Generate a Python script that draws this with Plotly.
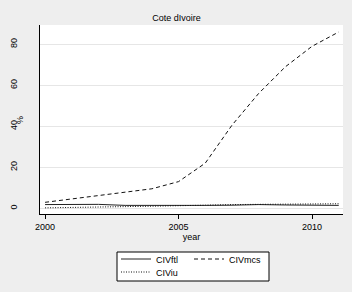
import plotly.graph_objects as go

years = [2000, 2001, 2002, 2003, 2004, 2005, 2006, 2007, 2008, 2009, 2010, 2011]
civ_ftl = [1.8, 1.9, 1.9, 1.4, 1.3, 1.3, 1.4, 1.5, 1.8, 1.6, 1.5, 1.4]
civ_mcs = [2.9, 4.5, 6.2, 7.6, 9.5, 13.0, 22.0, 40.5, 56.0, 69.0, 79.0, 86.0]
civ_iu = [0.2, 0.3, 0.5, 0.8, 1.0, 1.1, 1.5, 1.8, 1.9, 2.0, 2.1, 2.2]

x_ticks = [2000, 2005, 2010]
y_ticks = [0, 20, 40, 60, 80]

FONT = "Liberation Sans, Arial, sans-serif"

fig = go.Figure()
fig.add_trace(go.Scatter(x=years, y=civ_ftl, mode="lines", name="CIVftl",
                         line=dict(color="#222222", width=1), legend="legend"))
fig.add_trace(go.Scatter(x=years, y=civ_mcs, mode="lines", name="CIVmcs",
                         line=dict(color="#111111", width=1, dash="4px,3px"), legend="legend2"))
fig.add_trace(go.Scatter(x=years, y=civ_iu, mode="lines", name="CIViu",
                         line=dict(color="#111111", width=1, dash="1px,1.5px"), legend="legend3"))

W, H = 352, 292
L, R, T, B = 40, 9, 25, 78
pw = W - L - R
ph = H - T - B

def px(xp):
    return (xp - L) / pw

def py(yp):
    return (H - B - yp) / ph

leg_common = dict(font=dict(family=FONT, size=9, color="#000000"), bgcolor="rgba(0,0,0,0)",
                  borderwidth=0, xanchor="left", yanchor="middle", orientation="h")

y_range = [-2.8, 89.4]

fig.update_layout(
    width=W, height=H,
    margin=dict(l=L, r=R, t=T, b=B, autoexpand=False),
    paper_bgcolor="#eeeeee",
    plot_bgcolor="#ffffff",
    font=dict(family=FONT, size=9, color="#000000"),
    title=dict(text="Cote dIvoire", x=px(192), xanchor="center", y=1 - 18 / H, yanchor="middle",
               font=dict(family=FONT, size=9, color="#000000")),
    showlegend=True,
    legend=dict(x=px(116), y=py(259), **leg_common),
    legend2=dict(x=px(189), y=py(259), **leg_common),
    legend3=dict(x=px(116), y=py(272), **leg_common),
    xaxis=dict(range=[1999.81, 2011.16], tickvals=x_ticks, ticktext=[str(v) for v in x_ticks],
               showgrid=False, zeroline=False, showline=True, linecolor="#000000", linewidth=1,
               ticks="outside", ticklen=4, tickcolor="#000000", automargin=False,
               title=dict(text="year", standoff=2, font=dict(family=FONT, size=9))),
    yaxis=dict(range=y_range, tickvals=y_ticks, ticktext=[str(v) for v in y_ticks],
               tickangle=-90, showgrid=True, gridcolor="#e6e6e6", gridwidth=1,
               zeroline=False, automargin=False,
               showline=True, linecolor="#000000", linewidth=1,
               ticks="outside", ticklen=18, tickcolor="rgba(0,0,0,0)"),
    yaxis2=dict(range=y_range, overlaying="y", side="left", tickvals=y_ticks,
                showticklabels=False, showgrid=False, zeroline=False, automargin=False,
                showline=False, ticks="outside", ticklen=4, tickcolor="#000000"),
    shapes=[dict(type="rect", xref="paper", yref="paper",
                 x0=px(117), x1=px(269), y0=py(281), y1=py(252),
                 line=dict(color="#000000", width=1), fillcolor="#ffffff", layer="below")],
    annotations=[dict(text="%", xref="paper", yref="paper", x=px(20), y=py(120),
                      xanchor="center", yanchor="middle", textangle=-90, showarrow=False,
                      font=dict(family=FONT, size=9, color="#000000"))],
)

fig.write_html("out.html", config={"displayModeBar": False},
               post_script="document.body.style.margin='0';document.body.style.padding='0';")
